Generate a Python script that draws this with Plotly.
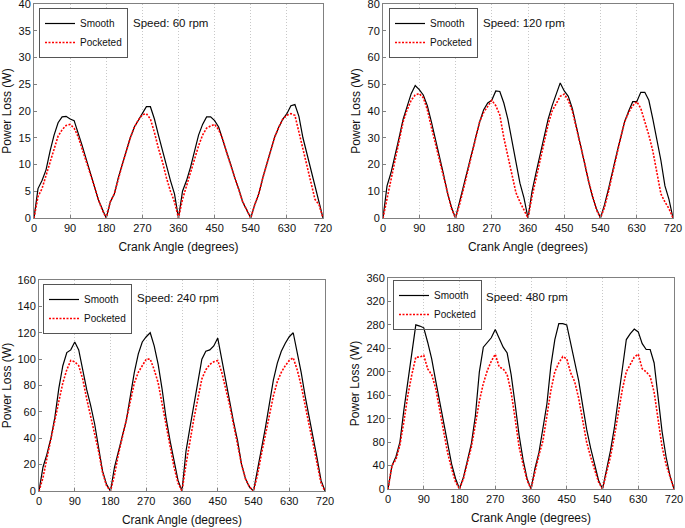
import plotly.graph_objects as go

angles = list(range(0, 721, 10))

smooth_60 = [0,5.5,7,9,12.5,15.5,17.8,18.9,19.0,18.5,
             18.2,16,13.5,11,8.5,6,3.5,1.7,0,
             3,4.5,7.5,10,12.5,15,17,18.3,19.5,
             20.8,20.8,18.5,15.5,12.5,9.6,7,4.5,0,
             5,7,9.5,12.5,15.5,17.5,18.9,18.9,18.2,
             17,14.8,12.2,10,7.5,5.5,3,1.5,0,
             2.5,4.5,7.5,10,12.8,15.2,17,18.5,19.5,
             21,21.2,19,15,12,9,5.5,3,0]
pocketed_60 = [0,4,5.5,8,10.5,13,15.3,16.5,17.3,17.5,
               16.8,15.2,13,10.8,8.5,6,3.5,1.5,0,
               3,4.5,7.5,10,12.5,15,17,18.3,19.3,
               19.5,18.5,16,13,10.5,7.5,5,3,0,
               3.5,6,8.5,11,13.5,15.5,16.8,17.2,17.5,
               16.5,14.8,12.2,10,7.5,5.5,3,1.5,0,
               2.5,4.5,7.5,10,12.8,15.2,17,18.5,19.2,
               19.5,19.2,16,13,9.5,6.5,3.5,2.5,0]

smooth_120 = [0,12,17,23,30,37,42,46.5,49.5,48,
              46,42,36,29,23,16.5,9.5,4,0,
              6,12,18,24,30,36,40.5,43,44,
              47.5,47.3,43,37,29.5,21,13,7.5,0,
              10,17,24,31,37,42,46.5,50.5,47.5,
              45.5,41,34,27,21,14,8,3.5,0,
              5,11,18,24,30,36,40,43.5,43.5,
              47,47,44,37,29,21.5,12,7,0]
pocketed_120 = [0,7,14,22,29,36,40.5,44,46,46.5,
                45,40.5,34,28,22,15.5,9,3.5,0,
                5,11,17,24,30,36,39.5,42,44,
                42,38.5,30,23,16,9.5,6,3,0,
                8,15,22,29,35,40,43,45.5,46.3,
                44,40,34,27.5,21,14,8,3,0,
                4,10,17,24,30,36,39.5,42,43.5,
                41,36,31,25,17,9,6,3.5,0]

smooth_240 = [0,18,28,40,56,78,95,105,107,113,
              107,92,77,65,51,33,15,5,0,
              18,30,40,54,72,90,104,113,117,
              120,110,96,77,55,38,23,8,0,
              30,48,65,82,100,106,107,110,116,
              100,83,68,52,38,20,9,3,0,
              15,32,48,66,84,97,106,112,117,
              120,105,90,72,57,42,25,8,0]
pocketed_240 = [0,10,25,40,55,68,82,92,99,98,
                95,85,70,57,45,30,14,4,0,
                12,28,40,54,68,82,90,95,100,
                100,92,82,66,50,34,18,6,0,
                20,38,55,70,85,92,96,98,99,
                90,78,65,50,36,20,9,3,0,
                12,28,43,58,72,83,90,95,99,
                101,92,80,64,50,36,20,6,0]

smooth_480 = [0,40,55,80,135,183,240,280,278,275,
              250,222,185,150,110,75,43,18,0,
              20,48,78,125,200,242,250,258,272,
              258,242,232,195,145,92,50,18,0,
              35,62,100,145,210,255,282,282,280,
              250,215,185,143,102,70,42,15,0,
              30,65,105,153,210,255,265,273,268,
              248,238,238,215,160,98,55,22,0]
pocketed_480 = [0,40,50,75,115,160,195,225,225,228,
                205,195,172,135,95,62,35,12,0,
                18,45,72,110,150,180,202,218,230,
                208,205,195,165,120,72,42,15,0,
                32,58,82,128,168,200,215,226,222,
                198,183,155,118,80,55,35,12,0,
                28,55,90,130,170,200,212,225,230,
                205,200,192,165,120,72,42,20,0]

speeds = ["Speed: 60 rpm", "Speed: 120 rpm", "Speed: 240 rpm", "Speed: 480 rpm"]
y_max = [40, 80, 160, 360]
y_step = [5, 10, 20, 40]
series = [(smooth_60, pocketed_60), (smooth_120, pocketed_120),
          (smooth_240, pocketed_240), (smooth_480, pocketed_480)]

W, H = 685, 528
# panel pixel boxes: left, right, top, bottom
boxes = [(34, 323, 4, 218), (383, 673, 4, 218), (39, 325, 280, 491), (388, 674, 278, 489)]
legend_pos = [(39, 8), (389, 8), (43, 284), (393, 280)]
legend_bg = ["white", "white", "white", "rgba(255,255,255,0)"]
speed_pos = [(131, 23), (481, 23), (135, 298), (484, 297)]

fig = go.Figure()
FONT = "Liberation Sans, Arial, sans-serif"
layout = dict(width=W, height=H, margin=dict(l=0, r=0, t=0, b=0),
              paper_bgcolor="white", plot_bgcolor="white",
              font=dict(family=FONT, size=11, color="#111"), annotations=[])

for i in range(4):
    sfx = "" if i == 0 else str(i + 1)
    s, p = series[i]
    leg = "legend" + sfx
    fig.add_trace(go.Scatter(x=angles, y=s, mode="lines", name="Smooth",
                             line=dict(color="black", width=1.2),
                             xaxis="x" + sfx, yaxis="y" + sfx, legend=leg))
    fig.add_trace(go.Scatter(x=angles, y=p, mode="lines", name="Pocketed",
                             line=dict(color="#ff0000", width=1.6, dash="2px,1.5px"),
                             xaxis="x" + sfx, yaxis="y" + sfx, legend=leg))
    l, r, t, b = boxes[i]
    layout["xaxis" + sfx] = dict(
        domain=[l / W, r / W], range=[0, 720], tickvals=list(range(0, 721, 90)),
        showgrid=True, gridcolor="#c8c8c8", griddash="1px,2px", gridwidth=1,
        showline=True, linecolor="#808080", linewidth=1, mirror=True,
        ticks="inside", ticklen=3, tickcolor="#808080", zeroline=False,
        tickfont=dict(size=11), automargin=False, anchor="y" + sfx,
        ticklabeloverflow="allow",
        title=dict(text="Crank Angle (degrees)", font=dict(size=12), standoff=9))
    layout["yaxis" + sfx] = dict(
        domain=[1 - b / H, 1 - t / H], range=[0, y_max[i]], dtick=y_step[i],
        showgrid=False, showline=True, linecolor="#808080", linewidth=1, mirror=True,
        ticks="inside", ticklen=3, tickcolor="#808080", zeroline=False,
        tickfont=dict(size=11), automargin=False, anchor="x" + sfx,
        ticklabeloverflow="allow",
        title=dict(text="Power Loss (W)", font=dict(size=12), standoff=4))
    lx, ly = legend_pos[i]
    layout[leg] = dict(x=lx / W, y=1 - ly / H, xanchor="left", yanchor="top",
                       bgcolor=legend_bg[i], bordercolor="#555", borderwidth=1,
                       font=dict(size=10, color="#111"), itemwidth=30,
                       tracegroupgap=0)
    sx, sy = speed_pos[i]
    layout["annotations"].append(dict(text=speeds[i], x=sx / W, y=1 - sy / H,
                                      xref="paper", yref="paper", xanchor="left",
                                      yanchor="middle", showarrow=False,
                                      font=dict(size=11.5, color="#111")))

fig.update_layout(**layout)
fig.write_html("out.html", config={"displayModeBar": False},
               post_script="document.body.style.margin='0';")
